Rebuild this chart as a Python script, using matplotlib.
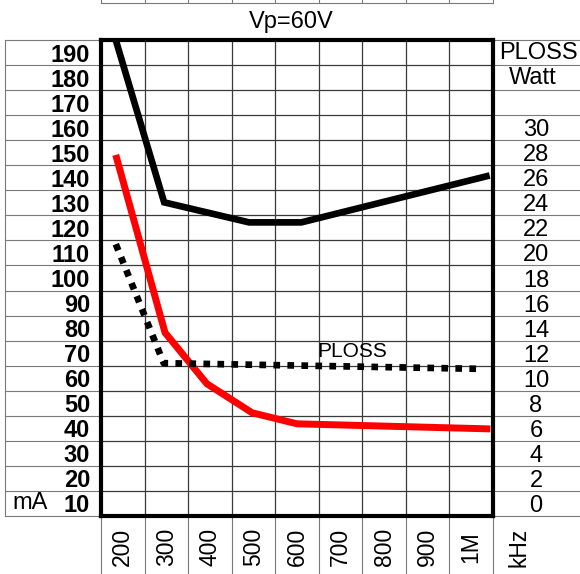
import matplotlib
matplotlib.use('Agg')
import matplotlib.pyplot as plt
import matplotlib.transforms as mtransforms

plt.rcParams['font.family'] = ['Liberation Sans', 'DejaVu Sans']

W, H = 580, 574

# ---- data ----
freq_ticks = [200, 300, 400, 500, 600, 700, 800, 900, 1000]
freq_labels = ['200', '300', '400', '500', '600', '700', '800', '900', '1M']
ma_ticks = list(range(10, 200, 10))
ploss_ticks = list(range(0, 32, 2))

black_f = [183, 295, 490, 610, 1035]
black_ma = [195.5, 130.2, 122.2, 122.2, 140.6]
red_f = [186, 297, 393, 497, 600, 1036]
red_ma = [147.8, 78.2, 57.8, 46.2, 41.8, 39.8]
ploss_f = [184, 294, 622, 1015]
ploss_w = [20.7, 11.2, 11.0, 10.75]

title = 'Vp=60V'

# ---- figure ----
fig = plt.figure(figsize=(W / 100, H / 100), dpi=100)
ax = fig.add_axes([101 / W, 1 - 516 / H, 392 / W, 476 / H])
ax.set_xlim(150, 1050)
ax.set_ylim(5, 195)

grid_c = '#3a3a3a'
tab_c = '#7a7a7a'

ax.set_xticks(list(range(250, 1000, 100)), minor=True)
ax.set_yticks(list(range(15, 190, 10)), minor=True)
ax.grid(which='minor', color=grid_c, lw=0.9)
ax.grid(which='major', visible=False)
ax.set_axisbelow(True)

ax.set_yticks(ma_ticks)
ax.set_yticklabels([str(v) for v in ma_ticks], fontsize=17, fontweight='bold')
ax.set_xticks(freq_ticks)
ax.set_xticklabels(freq_labels, rotation=90, va='center', ha='center', fontsize=16.5)
ax.tick_params(which='both', length=0)
ax.tick_params(axis='y', pad=7.9)
ax.tick_params(axis='x', pad=22.3)
for s in ax.spines.values():
    s.set_linewidth(3)
    s.set_color('black')

ax.plot(black_f, black_ma, color='black', lw=4.8, solid_joinstyle='miter', zorder=3)
ax.plot(red_f, red_ma, color='#ff0000', lw=5.0, solid_joinstyle='miter', zorder=3)

ax2 = ax.twinx()
ax2.set_ylim(-1, 37)
ax2.set_yticks(ploss_ticks)
ax2.set_yticklabels([str(v) for v in ploss_ticks], fontsize=17, ha='center')
ax2.tick_params(length=0, pad=31)
for s in ax2.spines.values():
    s.set_visible(False)
ln, = ax2.plot(ploss_f, ploss_w, color='black', lw=4.8, dash_capstyle='butt', zorder=4)
ln.set_dashes((1.0, 1.1))

ax.text(726, 70.5, 'PLOSS', fontsize=15, ha='center', va='center', zorder=5)

# ---- table decorations ----
px = mtransforms.Affine2D().scale(1 / W, -1 / H).translate(0, 1) + fig.transFigure
tr_y = mtransforms.blended_transform_factory(px, ax.transData)
tr_x = mtransforms.blended_transform_factory(ax.transData, px)

for b in range(5, 200, 10):
    ax.plot([5, 101], [b, b], transform=tr_y, color=tab_c, lw=0.8, clip_on=False)
    ax.plot([493, 580], [b, b], transform=tr_y, color=tab_c, lw=0.8, clip_on=False)
ax.plot([5, 5], [5, 195], transform=tr_y, color=tab_c, lw=0.8, clip_on=False)

for b in range(150, 1100, 100):
    ax.plot([b, b], [516, 574], transform=tr_x, color=tab_c, lw=0.8, clip_on=False)
    ax.plot([b, b], [0, 2.5], transform=tr_x, color=tab_c, lw=0.8, clip_on=False)
ax.plot([150, 1050], [2.5, 2.5], transform=tr_x, color=tab_c, lw=0.8, clip_on=False)

ax.text(12, 10, 'mA', transform=tr_y, fontsize=17, ha='left', va='center')
ax.text(538, 190, 'PLOSS', transform=tr_y, fontsize=17, ha='center', va='center')
ax.text(533, 180, 'Watt', transform=tr_y, fontsize=17, ha='center', va='center')
ax.text(519, 547, 'kHz', transform=px, fontsize=16.5, rotation=90, ha='center', va='center')

fig.text(291 / W, 1 - 22 / H, title, fontsize=17, ha='center', va='center')

fig.savefig('out.png', dpi=100)
